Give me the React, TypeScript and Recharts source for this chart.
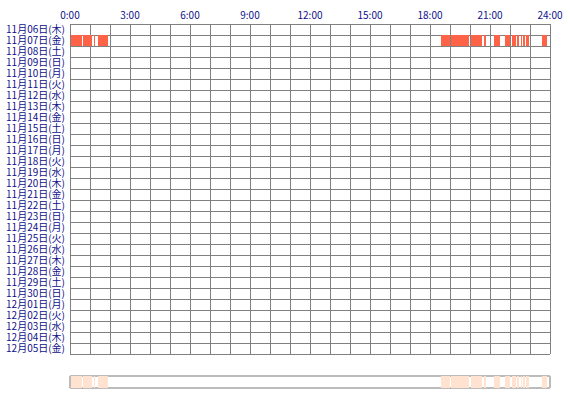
import { Bar, BarChart, CartesianGrid, XAxis, YAxis } from "recharts";

const days = [
  "11月06日(木)", "11月07日(金)", "11月08日(土)", "11月09日(日)", "11月10日(月)",
  "11月11日(火)", "11月12日(水)", "11月13日(木)", "11月14日(金)", "11月15日(土)",
  "11月16日(日)", "11月17日(月)", "11月18日(火)", "11月19日(水)", "11月20日(木)",
  "11月21日(金)", "11月22日(土)", "11月23日(日)", "11月24日(月)", "11月25日(火)",
  "11月26日(水)", "11月27日(木)", "11月28日(金)", "11月29日(土)", "11月30日(日)",
  "12月01日(月)", "12月02日(火)", "12月03日(水)", "12月04日(木)", "12月05日(金)",
];

// minutes from 0:00
const labelTicks = [0, 180, 360, 540, 720, 900, 1080, 1260, 1440];
const hourLines = [0, 60, 120, 180, 240, 300, 360, 420, 480, 540, 600, 660, 720, 780, 840, 900, 960, 1020, 1080, 1140, 1200, 1260, 1320, 1380, 1440];

// active intervals on 11月07日 (start, end in minutes)
const nov07 = [
  [3, 36], [39, 66], [72, 75], [84, 114],
  [1113, 1140], [1143, 1197], [1203, 1236], [1242, 1248],
  [1272, 1290], [1305, 1320], [1326, 1338], [1341, 1347],
  [1353, 1356], [1359, 1365], [1368, 1377], [1416, 1431],
];

const activity: Record<string, number[][]> = { "11月07日(金)": nov07 };

const keys = nov07.map((_, i) => `s${i}`);

const rows = days.map((day) => {
  const row: Record<string, unknown> = { day };
  (activity[day] || []).forEach((iv, i) => {
    row[`s${i}`] = iv;
  });
  return row;
});

const summary = [
  nov07.reduce((row: Record<string, unknown>, iv, i) => {
    row[`s${i}`] = iv;
    return row;
  }, { day: "all" }),
];

const navy = "#10108a";
const font = "'Noto Sans CJK JP', sans-serif";

// half-pixel nudge keeps 1px grid lines crisp
const sc = (scale: any, v: any) =>
  (typeof scale === "function" ? scale(v) : scale.map(v)) + 0.5;

const fmt = (m: number) => `${m / 60}:00`;

export default function App() {
  return (
    <div style={{ position: "absolute", left: 0, top: 0, width: 570, height: 400, background: "#fff" }}>
      <BarChart
        width={570}
        height={370}
        data={rows}
        layout="vertical"
        barCategoryGap={0}
        barGap="-100%"
        margin={{ top: 0, right: 20, bottom: 0, left: 0 }}
      >
        <CartesianGrid
          stroke="#808080"
          verticalCoordinatesGenerator={({ xAxis }: any) => hourLines.map((h) => sc(xAxis.scale, h))}
          horizontalCoordinatesGenerator={({ yAxis, offset }: any) =>
            days.map((d) => sc(yAxis.scale, d)).concat(offset.top + offset.height + 0.5)
          }
        />
        <XAxis
          type="number"
          orientation="top"
          domain={[0, 1440]}
          ticks={labelTicks}
          interval={0}
          tickFormatter={fmt}
          height={24}
          tickLine={false}
          axisLine={false}
          tickSize={4}
          tickMargin={1}
          tick={{ fill: navy, fontSize: 10, fontFamily: font }}
        />
        <XAxis
          xAxisId="b"
          type="number"
          orientation="bottom"
          domain={[0, 1440]}
          ticks={labelTicks}
          interval={0}
          tickFormatter={fmt}
          height={16}
          tickLine={false}
          axisLine={false}
          tickSize={4}
          tickMargin={1}
          tick={{ fill: navy, fontSize: 10, fontFamily: font }}
        />
        <YAxis
          type="category"
          dataKey="day"
          width={70}
          interval={0}
          tickLine={false}
          axisLine={false}
          tickSize={4}
          tickMargin={1}
          tick={{ fill: navy, fontSize: 10, fontFamily: font }}
        />
        {keys.map((k) => (
          <Bar key={k} dataKey={k} fill="#ff6347" isAnimationActive={false} />
        ))}
      </BarChart>
      <div style={{ position: "absolute", left: 0, top: 369 }}>
        <BarChart
          width={570}
          height={26}
          data={summary}
          layout="vertical"
          barCategoryGap={0}
          barGap="-100%"
          margin={{ top: 7, right: 20, bottom: 7, left: 70 }}
        >
          <CartesianGrid
            stroke="#bcbcbc"
            strokeWidth={2}
            verticalCoordinatesGenerator={({ offset }: any) => [offset.left, offset.left + offset.width]}
            horizontalCoordinatesGenerator={({ offset }: any) => [offset.top, offset.top + offset.height]}
          />
          <XAxis type="number" domain={[0, 1440]} hide />
          <YAxis type="category" dataKey="day" hide />
          {keys.map((k) => (
            <Bar key={k} dataKey={k} fill="#ffe2cf" isAnimationActive={false} />
          ))}
        </BarChart>
      </div>
    </div>
  );
}
